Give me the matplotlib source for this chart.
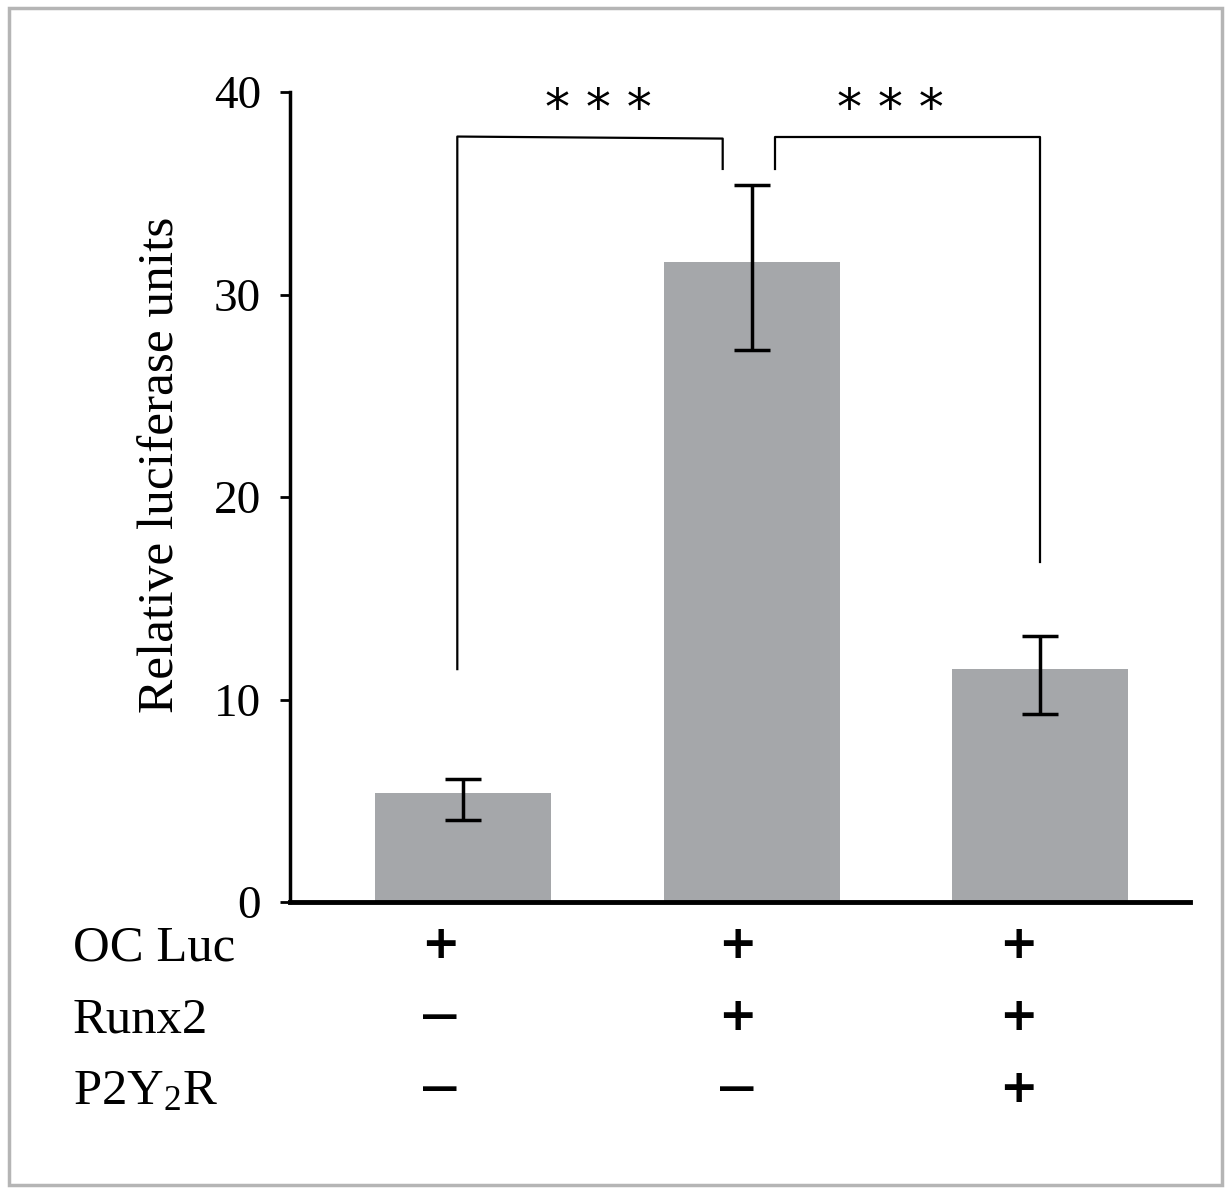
import matplotlib
matplotlib.use("Agg")
import matplotlib.pyplot as plt
from matplotlib.patches import Rectangle

plt.rcParams['font.family'] = ['Liberation Serif', 'DejaVu Serif']
plt.rcParams['mathtext.fontset'] = 'custom'
plt.rcParams['mathtext.rm'] = 'Liberation Serif'
plt.rcParams['mathtext.it'] = 'Liberation Serif:italic'

# data
groups = ["G1", "G2", "G3"]
means = [5.4, 31.6, 11.5]
err_low = [1.35, 4.35, 2.2]
err_high = [0.65, 3.8, 1.65]
row_labels = ["OC Luc", "Runx2", "P2Y$_\\mathrm{2}$R"]
signs = [["+", "+", "+"],
         ["\u2014", "+", "+"],
         ["\u2014", "\u2014", "+"]]
yticks = [0, 10, 20, 30, 40]
sig_label = "* * *"

W, H = 1225, 1194
fig = plt.figure(figsize=(W / 100, H / 100), dpi=100)
ax = fig.add_axes([290 / W, 1 - 902 / H, 900 / W, 810 / H])

x = list(range(len(groups)))
ax.bar(x, means, width=0.61, color="#a5a7aa", zorder=2)
ax.errorbar(x, means, yerr=[err_low, err_high], fmt="none", ecolor="black",
            elinewidth=2.5, capsize=13, capthick=2.5, zorder=3)

ax.set_xlim(-0.6, 2.52)
ax.set_ylim(0, 40)
ax.set_yticks(yticks)
ax.set_xticks([])
ax.tick_params(axis="y", direction="out", length=7, width=2, labelsize=34, pad=14)
for s in ["top", "right"]:
    ax.spines[s].set_visible(False)
ax.spines["left"].set_linewidth(2.5)
ax.spines["bottom"].set_linewidth(3.5)
ax.set_ylabel("Relative luciferase units", fontsize=37, va="center")
ax.yaxis.set_label_coords(-0.144, 0.54)

# significance brackets
lw = 1.6
ax.plot([-0.02, -0.02, 0.9, 0.9], [11.5, 37.8, 37.7, 36.2], color="black", lw=lw, zorder=4, clip_on=False)
ax.plot([1.08, 1.08, 2.0, 2.0], [36.2, 37.8, 37.8, 16.8], color="black", lw=lw, zorder=4, clip_on=False)
ax.text(0.47, 39.1, sig_label, ha="center", va="center", fontsize=36,
        family="DejaVu Sans", clip_on=False)
ax.text(1.48, 39.1, sig_label, ha="center", va="center", fontsize=36,
        family="DejaVu Sans", clip_on=False)

# condition table below axis
row_y = [948, 1020, 1092]
col_off = [-0.08, -0.05, -0.076]
for r, lab in enumerate(row_labels):
    fig.text(73 / W, 1 - row_y[r] / H, lab, ha="left", va="center", fontsize=36.5)
    for c in range(len(groups)):
        xd = c + col_off[c]
        xf = ax.transData.transform((xd, 0))[0] / W
        s = signs[r][c]
        if s == "+":
            fig.text(xf, 1 - (row_y[r] - 3) / H, s, ha="center", va="center",
                     fontsize=33, family="DejaVu Sans", fontweight="bold")
        else:
            fig.text(xf, 1 - (row_y[r] - 3) / H, s, ha="center", va="center",
                     fontsize=27, family="DejaVu Sans", fontweight="bold")

# figure border
fig.patches.append(Rectangle((9 / W, 9 / H), 1213 / W, 1177 / H, transform=fig.transFigure,
                             fill=False, edgecolor="#b5b5b5", linewidth=2.5))

fig.savefig("out.png", dpi=100)
